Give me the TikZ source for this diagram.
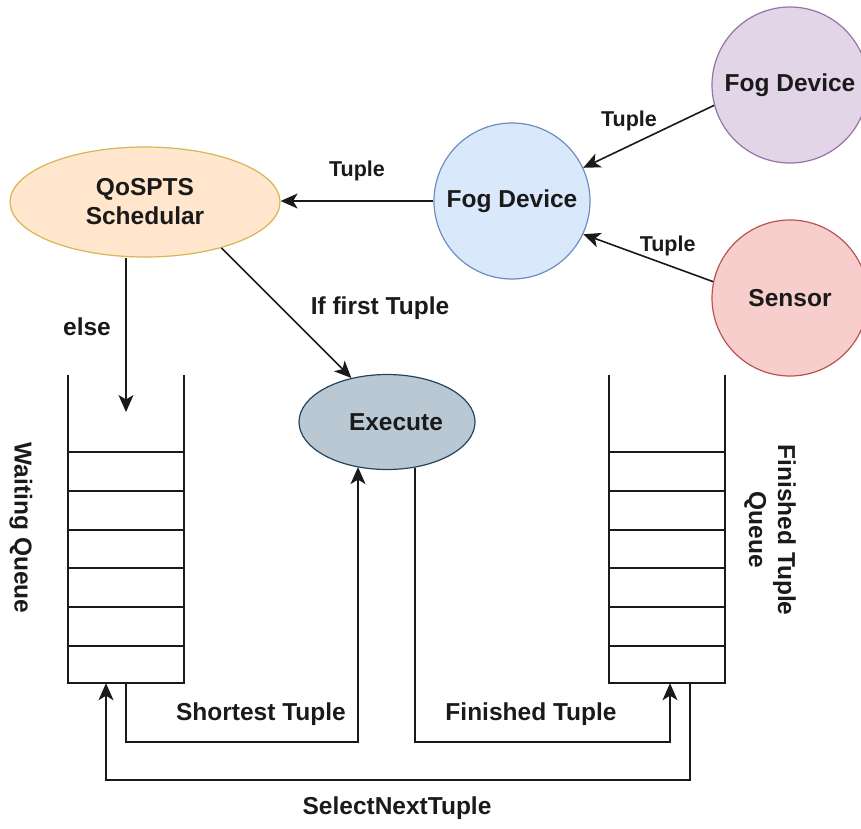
\documentclass[tikz,border=0pt]{standalone}
\usepackage{fontspec}
\setmainfont{Liberation Sans}
\usetikzlibrary{shapes.geometric,arrows.meta,calc}

\definecolor{qosfill}{HTML}{FFE6CC}
\definecolor{qosline}{HTML}{D6B656}
\definecolor{bluefill}{HTML}{DAE8FC}
\definecolor{blueline}{HTML}{6C8EBF}
\definecolor{purplefill}{HTML}{E1D5E7}
\definecolor{purpleline}{HTML}{9673A6}
\definecolor{redfill}{HTML}{F8CECC}
\definecolor{redline}{HTML}{B85450}
\definecolor{execfill}{HTML}{BAC8D3}
\definecolor{execline}{HTML}{23445D}
\definecolor{ink}{HTML}{1A1A1A}

\tikzset{
  every node/.style={font=\fontsize{24.5}{29}\selectfont\bfseries, text=ink},
  lbl/.style={inner sep=0pt},
  small/.style={lbl, font=\fontsize{21.5}{26}\selectfont\bfseries},
  device/.style={circle, minimum size=156pt, inner sep=0pt, line width=1.2pt},
  oval/.style={ellipse, inner sep=0pt, line width=1.2pt, align=center},
  queuebox/.style={rectangle, minimum width=116pt, minimum height=308pt, inner sep=0pt},
  wall/.style={ink, line width=1.6pt},
  flow/.style={ink, line width=1.6pt, -{Stealth[length=17pt,width=15pt,inset=4.5pt]}}
}

\begin{document}
\begin{tikzpicture}[x=1pt,y=-1pt]
\useasboundingbox (0,0) rectangle (861,828);

% devices and scheduler
\node[oval, fill=qosfill, draw=qosline, minimum width=270pt, minimum height=110pt] (qos) at (145,202) {QoSPTS\\Schedular};
\node[device, fill=bluefill, draw=blueline] (fog1) at (512,201) {Fog Device};
\node[device, fill=purplefill, draw=purpleline] (fog2) at (790,85) {Fog Device};
\node[device, fill=redfill, draw=redline] (sensor) at (790,298) {Sensor};
\node[oval, fill=execfill, draw=execline, minimum width=176pt, minimum height=95pt] (exec) at (387,422) {\makebox[0pt]{\hspace*{18pt}Execute}};

% queues
\node[queuebox] (wq) at (126,529) {};
\node[queuebox] (fq) at (667,529) {};
\foreach \q in {wq,fq}{
  \draw[wall] (\q.north west) -- (\q.south west) -- (\q.south east) -- (\q.north east);
  \foreach \yy in {452,491,530,568,607,646}
    \draw[wall] (\q.west |- 0,\yy) -- (\q.east |- 0,\yy);
}

\node[lbl, rotate=-90] (wqlabel) at (21,528) {Waiting Queue};
\node[lbl, rotate=-90, align=center] (fqlabel) at (770,530) {Finished Tuple\\Queue};

% incoming tuples
\draw[flow] (fog2.195) -- (fog1.25) node[small, pos=0.65, above=14pt] (t2) {Tuple};
\draw[flow] (sensor.168) -- (fog1.-25) node[small, pos=0.35, above=8pt] (t3) {Tuple};
\draw[flow] (fog1.west) -- (fog1.west -| qos.east);
\node[small] (t1) at (357,171) {Tuple};

% scheduler decisions
\coordinate (elseend) at (126,412);
\draw[flow] (wq.north |- qos.south) -- (elseend);
\node[lbl] (elselbl) at (87,327) {else};
\draw[flow] (qos.-31) -- (exec.129);
\node[lbl] (firstlbl) at (380,308) {If first Tuple};

% bottom loops
\coordinate (execin) at ($(exec.south)+(-29,-3)$);
\draw[flow] (wq.south) -- ++(0,59) -| (execin);
\node[lbl] (shortlbl) at (261,714) {Shortest Tuple};

\coordinate (execout) at ($(exec.south)+(28,-2)$);
\draw[flow] (execout) -- (execout |- 0,742) -| ($(fq.south)+(3,0)$);
\node[lbl] (finlbl) at (531,714) {Finished Tuple};

\draw[flow] ($(fq.south)+(23,0)$) -- ++(0,97) -| ($(wq.south)+(-20,0)$);
\node[lbl] (selectlbl) at (397,808) {SelectNextTuple};
\end{tikzpicture}
\end{document}
